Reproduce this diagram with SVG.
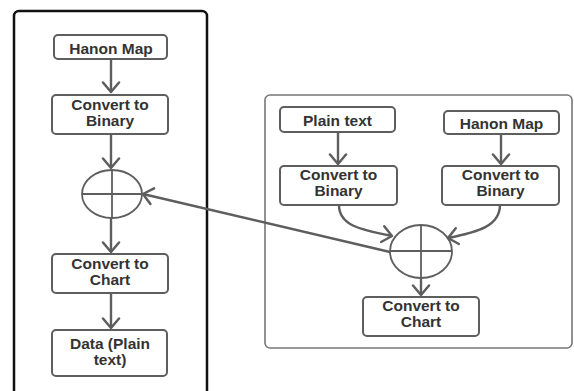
<svg xmlns="http://www.w3.org/2000/svg" width="574" height="391" viewBox="0 0 574 391">
<style>
.box{fill:#fff;stroke:#5e5e5e;stroke-width:2}
.t{font-family:"Liberation Sans",Arial,sans-serif;font-weight:bold;font-size:15.5px;fill:#333;text-anchor:middle}
.c{fill:none;stroke:#5e5e5e;stroke-width:2.4}
.x{fill:none;stroke:#5e5e5e;stroke-width:1.8}
</style>
<defs>
<marker id="ah" markerUnits="userSpaceOnUse" markerWidth="14" markerHeight="20" refX="11" refY="10" orient="auto">
<path d="M1.5,2 L11,10 L1.5,18" fill="none" stroke="#5e5e5e" stroke-width="2.5" stroke-linecap="round" stroke-linejoin="round"/>
</marker>
</defs>
<rect width="574" height="391" fill="#fff"/>
<rect id="left-container" x="14" y="11" width="193" height="400" rx="5" fill="none" stroke="#111" stroke-width="2.5"/>
<rect id="right-container" x="265" y="95" width="307" height="253" rx="5" fill="none" stroke="#777" stroke-width="1.6"/>

<g id="connectors">
<path class="c" d="M111,59 V92" marker-end="url(#ah)"/>
<path class="c" d="M111,134 V168" marker-end="url(#ah)"/>
<path class="c" d="M111,218 V252" marker-end="url(#ah)"/>
<path class="c" d="M111,293 V328" marker-end="url(#ah)"/>
<path class="c" d="M338,132 V164" marker-end="url(#ah)"/>
<path class="c" d="M501,134 V164" marker-end="url(#ah)"/>
<path class="c" d="M339,205 C339,226 362,230 392,236" marker-end="url(#ah)"/>
<path class="c" d="M500,205 C500,226 478,232 448,238" marker-end="url(#ah)"/>
<path class="c" d="M421,278 V295" marker-end="url(#ah)"/>
<path class="c" d="M390,252 L143,194" marker-end="url(#ah)"/>
</g>

<g id="l-hanon"><rect class="box" x="54" y="35" width="113" height="24" rx="4"/><text class="t" x="111" y="53.5">Hanon Map</text></g>
<g id="l-binary"><rect class="box" x="52" y="95" width="116" height="39" rx="4"/><text class="t" x="110" y="110">Convert to</text><text class="t" x="110" y="125.5">Binary</text></g>
<g id="l-xor"><ellipse class="x" cx="112" cy="194" rx="30" ry="24"/><path class="x" d="M112,170 V218 M82,194 H142"/></g>
<g id="l-chart"><rect class="box" x="52" y="254" width="116" height="39" rx="4"/><text class="t" x="110" y="269">Convert to</text><text class="t" x="110" y="284.5">Chart</text></g>
<g id="l-data"><rect class="box" x="52" y="330" width="115" height="46" rx="4"/><text class="t" x="110" y="348.5">Data (Plain</text><text class="t" x="110" y="364.5">text)</text></g>

<g id="r-plain"><rect class="box" x="280" y="107" width="115" height="25" rx="4"/><text class="t" x="337.5" y="125.5">Plain text</text></g>
<g id="r-hanon"><rect class="box" x="444" y="111" width="115" height="23" rx="4"/><text class="t" x="501.5" y="129">Hanon Map</text></g>
<g id="r-binary1"><rect class="box" x="280" y="166" width="117" height="39" rx="4"/><text class="t" x="338.5" y="180">Convert to</text><text class="t" x="338.5" y="196">Binary</text></g>
<g id="r-binary2"><rect class="box" x="442" y="166" width="117" height="39" rx="4"/><text class="t" x="500.5" y="180">Convert to</text><text class="t" x="500.5" y="196">Binary</text></g>
<g id="r-xor"><ellipse class="x" cx="421" cy="251.5" rx="31" ry="26.5"/><path class="x" d="M421,225 V278 M390,251 H452"/></g>
<g id="r-chart"><rect class="box" x="363" y="297" width="116" height="39" rx="4"/><text class="t" x="421" y="311">Convert to</text><text class="t" x="421" y="326.5">Chart</text></g>
</svg>
